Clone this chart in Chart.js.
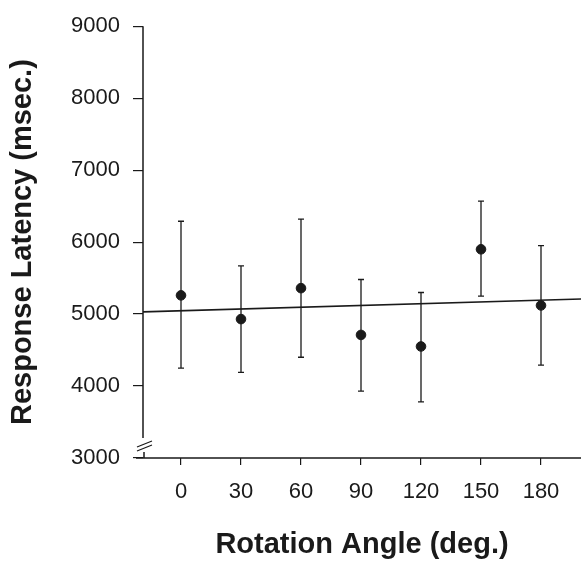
<!DOCTYPE html>
<html>
<head>
<meta charset="utf-8">
<script src="https://cdn.jsdelivr.net/npm/chart.js@4.4.1/dist/chart.umd.min.js"></script>
<style>
  html, body { margin: 0; padding: 0; background: #fff; }
  #wrap { width: 581px; height: 563px; }
</style>
</head>
<body>
<div id="wrap"><canvas id="latencyChart" width="581" height="563"></canvas></div>
<script>
// values
const angles = [0, 30, 60, 90, 120, 150, 180];
const meanLatency = [5260, 4930, 5360, 4710, 4550, 5900, 5120];
const upperLatency = [6290, 5670, 6320, 5480, 5300, 6570, 5950];
const lowerLatency = [4250, 4190, 4400, 3930, 3780, 5250, 4290];

// regression line end points
const fitX = [-19, 200];
const fitY = [5030, 5210];

const xTicks = [0, 30, 60, 90, 120, 150, 180];
const yTicks = [3000, 4000, 5000, 6000, 7000, 8000, 9000];

const ink = '#1a1a1a';

// error bars drawn through the scales
const errorBars = {
    id: 'errorBars',
    afterDatasetsDraw(chart) {
        const { ctx, scales: { x, y } } = chart;
        ctx.save();
        ctx.strokeStyle = ink;
        ctx.lineWidth = 1.3;
        angles.forEach((a, i) => {
            const px = x.getPixelForValue(a);
            const top = y.getPixelForValue(upperLatency[i]);
            const bot = y.getPixelForValue(lowerLatency[i]);
            ctx.beginPath();
            ctx.moveTo(px, top);
            ctx.lineTo(px, bot);
            ctx.moveTo(px - 3, top);
            ctx.lineTo(px + 3, top);
            ctx.moveTo(px - 3, bot);
            ctx.lineTo(px + 3, bot);
            ctx.stroke();
        });
        ctx.restore();
    }
};

// axis lines with the break on the y axis
const axisLines = {
    id: 'axisLines',
    afterDraw(chart) {
        const { ctx, chartArea: area } = chart;
        ctx.save();
        ctx.strokeStyle = ink;
        ctx.lineWidth = 1.5;
        ctx.beginPath();
        // y axis, broken near the bottom
        ctx.moveTo(area.left, area.top);
        ctx.lineTo(area.left, area.bottom - 20);
        ctx.moveTo(area.left + 1, area.bottom - 6);
        ctx.lineTo(area.left + 1, area.bottom);
        // x axis
        ctx.moveTo(area.left - 7, area.bottom);
        ctx.lineTo(area.right, area.bottom);
        ctx.stroke();
        // break marks
        ctx.lineWidth = 1.2;
        ctx.beginPath();
        ctx.moveTo(area.left - 6, area.bottom - 11);
        ctx.lineTo(area.left + 9, area.bottom - 17);
        ctx.moveTo(area.left - 6, area.bottom - 7);
        ctx.lineTo(area.left + 9, area.bottom - 13);
        ctx.stroke();
        ctx.restore();
    }
};

const ctx = document.getElementById('latencyChart').getContext('2d');
new Chart(ctx, {
    type: 'scatter',
    data: {
        datasets: [{
            label: 'Mean',
            data: angles.map((a, i) => ({ x: a, y: meanLatency[i] })),
            backgroundColor: ink,
            borderColor: ink,
            pointRadius: 4.8,
            pointHoverRadius: 4.8
        }, {
            label: 'Fit',
            type: 'line',
            data: fitX.map((v, i) => ({ x: v, y: fitY[i] })),
            borderColor: ink,
            borderWidth: 1.6,
            pointRadius: 0,
            fill: false
        }]
    },
    options: {
        responsive: false,
        animation: false,
        layout: { autoPadding: false, padding: { top: 20, right: 0, left: 0, bottom: 0 } },
        plugins: {
            legend: { display: false },
            tooltip: { enabled: false }
        },
        scales: {
            x: {
                type: 'linear',
                min: -19,
                max: 200,
                afterFit(scale) { scale.height = 105; },
                afterBuildTicks(scale) { scale.ticks = xTicks.map(v => ({ value: v })); },
                border: { display: false },
                grid: { drawOnChartArea: false, drawTicks: true, tickLength: 7, color: ink, lineWidth: 1.2 },
                ticks: {
                    color: ink,
                    padding: 14,
                    font: { family: 'Liberation Sans', size: 22 },
                    maxRotation: 0,
                    callback: v => String(v)
                },
                title: {
                    display: true,
                    text: 'Rotation Angle (deg.)',
                    color: ink,
                    font: { family: 'Liberation Sans', size: 29, weight: 'bold' },
                    padding: { top: 0, bottom: 1 }
                }
            },
            y: {
                min: 3000,
                max: 9000,
                afterFit(scale) { scale.width = 143; },
                afterBuildTicks(scale) { scale.ticks = yTicks.map(v => ({ value: v })); },
                border: { display: false },
                grid: { drawOnChartArea: false, drawTicks: true, tickLength: 10, color: ink, lineWidth: 1.2 },
                ticks: {
                    color: ink,
                    padding: 13,
                    font: { family: 'Liberation Sans', size: 22 },
                    callback: v => String(v)
                },
                title: {
                    display: true,
                    text: 'Response Latency (msec.)',
                    color: ink,
                    font: { family: 'Liberation Sans', size: 29, weight: 'bold' },
                    padding: { top: 6, bottom: 0 }
                }
            }
        }
    },
    plugins: [errorBars, axisLines]
});
</script>
</body>
</html>
